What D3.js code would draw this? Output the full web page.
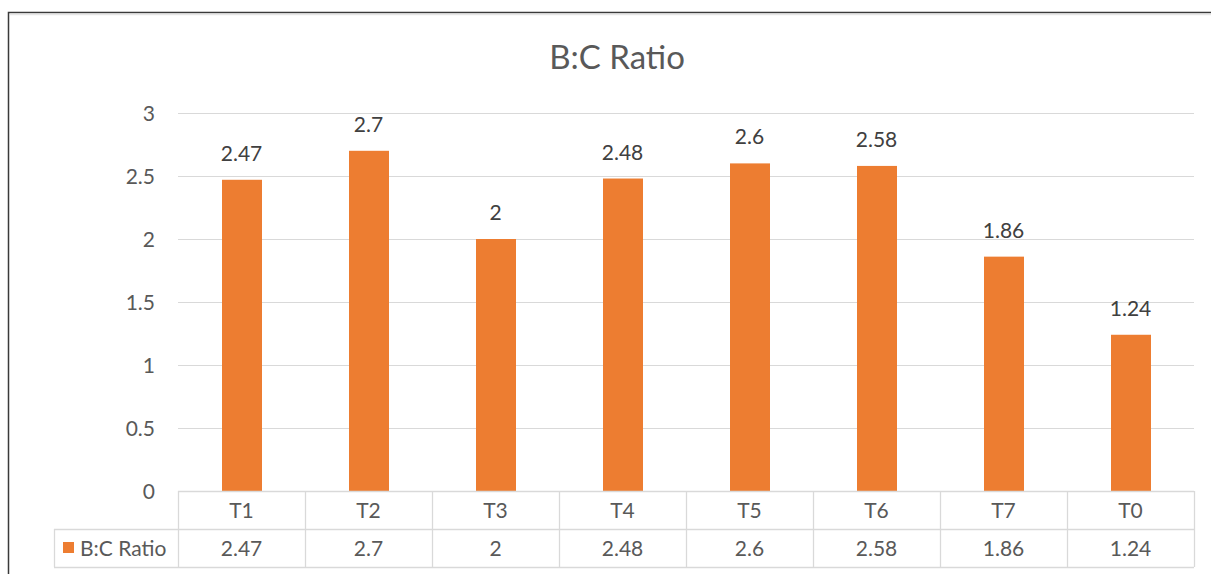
<!DOCTYPE html>
<html>
<head>
<meta charset="utf-8">
<script src="https://cdn.jsdelivr.net/npm/d3@7"></script>
<style>
  html, body { margin: 0; padding: 0; background: #fff; }
  svg { display: block; }
</style>
</head>
<body>
<svg id="chart" width="1211" height="574"></svg>
<script>
// Benefit–cost ratio per treatment
const categories = ["T1", "T2", "T3", "T4", "T5", "T6", "T7", "T0"];
const ratioValues = [2.47, 2.7, 2, 2.48, 2.6, 2.58, 1.86, 1.24];
const yTicks = [0, 0.5, 1, 1.5, 2, 2.5, 3];
const seriesName = "B:C Ratio";
const chartTitle = "B:C Ratio";

const W = 1211, H = 574;
const font = "Lato, 'Open Sans', sans-serif";
const barColor = "#ED7D31";
const gridColor = "#D9D9D9";
const textColor = "#595959";
const fs = 21;

const svg = d3.select("#chart");

// outer frame
svg.append("rect")
  .attr("x", 8.5).attr("y", 12.5)
  .attr("width", W + 10).attr("height", H + 10)
  .attr("fill", "none").attr("stroke", "#3a3a3a").attr("stroke-width", 1.5);
svg.append("line")
  .attr("x1", 10).attr("x2", W).attr("y1", 14.5).attr("y2", 14.5)
  .attr("stroke", "#e6e6e6").attr("stroke-width", 1.5);

const plot = { left: 178, right: 1194, top: 113, bottom: 491 };

const x = d3.scaleBand()
  .domain(categories)
  .range([plot.left, plot.right])
  .paddingInner(0).paddingOuter(0);

const y = d3.scaleLinear()
  .domain([0, 3])
  .range([plot.bottom, plot.top]);

// title
svg.append("text")
  .attr("x", 617)
  .attr("y", 69)
  .attr("text-anchor", "middle")
  .attr("font-family", font)
  .attr("font-size", 33)
  .attr("fill", textColor)
  .text(chartTitle);

// y labels via axis
const yAxis = d3.axisLeft(y).tickValues(yTicks).tickSize(0).tickPadding(0)
  .tickFormat(d3.format("~g"));
const yg = svg.append("g").attr("transform", `translate(${plot.left - 23},0)`).call(yAxis);
yg.select(".domain").remove();
yg.selectAll("text")
  .attr("font-family", font).attr("font-size", fs).attr("fill", textColor)
  .attr("dy", "0.36em");

// gridlines
svg.append("g").selectAll("line")
  .data(yTicks.filter(d => d > 0))
  .join("line")
  .attr("x1", plot.left).attr("x2", plot.right)
  .attr("y1", d => Math.round(y(d)) + 0.5).attr("y2", d => Math.round(y(d)) + 0.5)
  .attr("stroke", gridColor).attr("stroke-width", 1);

const rows = categories.map((c, i) => ({ c, v: ratioValues[i] }));

// bars
const barW = 40;
svg.append("g").selectAll("rect")
  .data(rows)
  .join("rect")
  .attr("x", d => x(d.c) + x.bandwidth() / 2 - barW / 2 + 0.5)
  .attr("width", barW)
  .attr("y", d => y(d.v))
  .attr("height", d => y(0) - y(d.v))
  .attr("fill", barColor);

// value labels
svg.append("g").selectAll("text")
  .data(rows)
  .join("text")
  .attr("x", d => x(d.c) + x.bandwidth() / 2)
  .attr("y", d => y(d.v) - 19)
  .attr("text-anchor", "middle")
  .attr("font-family", font).attr("font-size", fs).attr("fill", "#404040")
  .text(d => d3.format("~g")(d.v));

// data table
const rowH = 38;
const headTop = plot.bottom, valTop = plot.bottom + rowH, tableBottom = plot.bottom + 2 * rowH;
const tableLeft = 54;
const tg = svg.append("g").attr("stroke", gridColor).attr("stroke-width", 1.3);
tg.append("line").attr("x1", plot.left).attr("x2", plot.right).attr("y1", headTop + 0.5).attr("y2", headTop + 0.5);
tg.append("line").attr("x1", tableLeft).attr("x2", plot.right).attr("y1", valTop + 0.5).attr("y2", valTop + 0.5);
tg.append("line").attr("x1", tableLeft).attr("x2", plot.right).attr("y1", tableBottom + 0.5).attr("y2", tableBottom + 0.5);
tg.append("line").attr("x1", tableLeft + 0.5).attr("x2", tableLeft + 0.5).attr("y1", valTop).attr("y2", tableBottom);
const colEdges = categories.map(c => x(c)).concat([plot.right]);
tg.selectAll("line.col").data(colEdges).join("line").attr("class", "col")
  .attr("x1", d => Math.round(d) + 0.5).attr("x2", d => Math.round(d) + 0.5)
  .attr("y1", headTop).attr("y2", tableBottom);

// header text
svg.append("g").selectAll("text").data(categories).join("text")
  .attr("x", d => x(d) + x.bandwidth() / 2)
  .attr("y", headTop + rowH / 2)
  .attr("dy", "0.36em")
  .attr("text-anchor", "middle")
  .attr("font-family", font).attr("font-size", fs).attr("fill", textColor)
  .text(d => d);

// value text
svg.append("g").selectAll("text").data(rows).join("text")
  .attr("x", d => x(d.c) + x.bandwidth() / 2)
  .attr("y", valTop + rowH / 2)
  .attr("dy", "0.36em")
  .attr("text-anchor", "middle")
  .attr("font-family", font).attr("font-size", fs).attr("fill", textColor)
  .text(d => d3.format("~g")(d.v));

// legend key in table
svg.append("rect")
  .attr("x", 63).attr("y", valTop + rowH / 2 - 6)
  .attr("width", 11).attr("height", 11).attr("fill", barColor);
svg.append("text")
  .attr("x", 80).attr("y", valTop + rowH / 2).attr("dy", "0.36em")
  .attr("font-family", font).attr("font-size", fs).attr("fill", textColor)
  .text(seriesName);
</script>
</body>
</html>
